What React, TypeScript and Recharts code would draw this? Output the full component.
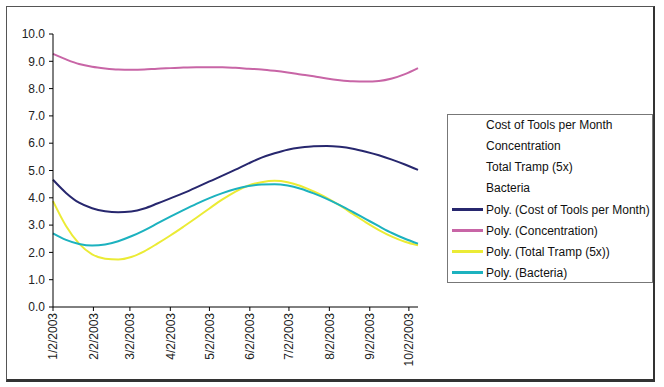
import React from 'react';
import { LineChart, Line, XAxis, YAxis, Legend } from 'recharts';

// x positions: days since 1/2/2003
const days = [0, 10, 20, 30, 40, 50, 60, 70, 80, 90, 100, 110, 120, 130, 140, 150, 160, 170, 180, 190, 200, 210, 220, 230, 240, 250, 260, 270, 280];

const polyCost = [4.66, 4.18, 3.82, 3.62, 3.51, 3.47, 3.5, 3.61, 3.79, 3.98, 4.17, 4.38, 4.6, 4.81, 5.03, 5.26, 5.47, 5.63, 5.76, 5.84, 5.89, 5.9, 5.87, 5.8, 5.69, 5.56, 5.4, 5.22, 5.02];
const polyConcentration = [9.27, 9.07, 8.9, 8.8, 8.74, 8.7, 8.69, 8.7, 8.73, 8.75, 8.77, 8.78, 8.78, 8.78, 8.76, 8.73, 8.7, 8.65, 8.59, 8.52, 8.45, 8.37, 8.31, 8.27, 8.26, 8.28, 8.37, 8.53, 8.75];
const polyTramp = [3.88, 2.97, 2.32, 1.93, 1.77, 1.74, 1.83, 2.04, 2.32, 2.62, 2.94, 3.27, 3.61, 3.94, 4.23, 4.45, 4.57, 4.62, 4.57, 4.43, 4.23, 4.0, 3.72, 3.41, 3.1, 2.82, 2.58, 2.39, 2.26];
const polyBacteria = [2.7, 2.46, 2.31, 2.25, 2.29, 2.41, 2.59, 2.81, 3.06, 3.31, 3.55, 3.78, 3.99, 4.17, 4.32, 4.43, 4.49, 4.5, 4.45, 4.33, 4.16, 3.96, 3.73, 3.48, 3.22, 2.96, 2.71, 2.5, 2.32];

const tickDays = [0, 31, 59, 90, 120, 151, 181, 212, 243, 273];
const tickLabels = ['1/2/2003', '2/2/2003', '3/2/2003', '4/2/2003', '5/2/2003', '6/2/2003', '7/2/2003', '8/2/2003', '9/2/2003', '10/2/2003'];
const yTicks = [0, 1, 2, 3, 4, 5, 6, 7, 8, 9, 10];

const seriesNames = ['Cost of Tools per Month', 'Concentration', 'Total Tramp (5x)', 'Bacteria'];
const trendNames = ['Poly. (Cost of Tools per Month)', 'Poly. (Concentration)', 'Poly. (Total Tramp (5x))', 'Poly. (Bacteria)'];
const trendKeys = ['cost', 'conc', 'tramp', 'bact'];
const colors = ['#27276E', '#C865A6', '#EBEB35', '#1CB2BF'];

const data = days.map((d, i) => ({
  day: d,
  cost: polyCost[i],
  conc: polyConcentration[i],
  tramp: polyTramp[i],
  bact: polyBacteria[i],
}));

const FONT = '"Liberation Sans", Arial, sans-serif';

const XTick = (props: any) => {
  const { x, y, payload } = props;
  const idx = tickDays.indexOf(payload.value);
  return (
    <text
      x={x}
      y={y}
      transform={`rotate(-90 ${x} ${y})`}
      textAnchor="end"
      dy="0.35em"
      fontSize={12}
      fontFamily={FONT}
      fill="#222"
    >
      {idx >= 0 ? tickLabels[idx] : ''}
    </text>
  );
};

const LegendBox = () => (
  <div
    style={{
      width: 206,
      height: 169,
      boxSizing: 'border-box',
      border: '1px solid #777',
      background: '#fff',
      fontFamily: FONT,
      fontSize: 12,
      color: '#111',
      whiteSpace: 'nowrap',
      overflow: 'hidden',
    }}
  >
    {seriesNames.map((n) => (
      <div key={n} style={{ height: 21, lineHeight: '21px', paddingLeft: 38 }}>
        {n}
      </div>
    ))}
    {trendNames.map((n, i) => (
      <div key={n} style={{ height: 21, display: 'flex', alignItems: 'center' }}>
        <span
          style={{
            display: 'inline-block',
            width: 31,
            height: 2.5,
            background: colors[i],
            marginLeft: 4,
            marginRight: 3,
          }}
        />
        {n}
      </div>
    ))}
  </div>
);

export default function App() {
  return (
    <div style={{ position: 'absolute', left: 0, top: 0, width: 664, height: 387, background: '#fff' }}>
      <div
        style={{
          position: 'absolute',
          left: 6,
          top: 6,
          width: 649,
          height: 376,
          boxSizing: 'border-box',
          borderTop: '1px solid #555',
          borderLeft: '1px solid #555',
          borderRight: '2px solid #333',
          borderBottom: '3px solid #333',
        }}
      />
      <div style={{ position: 'absolute', left: 0, top: 0 }}>
        <LineChart
          width={664}
          height={387}
          data={data}
          margin={{ top: 34, right: 246, bottom: 0, left: 0 }}
        >
          <XAxis
            dataKey="day"
            type="number"
            domain={[0, 280]}
            ticks={tickDays}
            interval={0}
            height={80}
            tickSize={4}
            tickMargin={2}
            tick={<XTick />}
            axisLine={{ stroke: '#000' }}
            tickLine={{ stroke: '#000' }}
          />
          <YAxis
            type="number"
            domain={[0, 10]}
            ticks={yTicks}
            interval={0}
            width={53}
            tickSize={4}
            tickMargin={4}
            tickFormatter={(v: number) => v.toFixed(1)}
            tick={{ fontSize: 12, fontFamily: FONT, fill: '#222' }}
            axisLine={{ stroke: '#000' }}
            tickLine={{ stroke: '#000' }}
          />
          <Legend
            layout="vertical"
            align="center"
            verticalAlign="middle"
            content={<LegendBox />}
            wrapperStyle={{ position: 'absolute', left: 447, top: 114, width: 206, height: 169 }}
          />
          {trendKeys.map((k, i) => (
            <Line
              key={k}
              dataKey={k}
              name={trendNames[i]}
              type="monotone"
              stroke={colors[i]}
              strokeWidth={2}
              dot={false}
              activeDot={false}
              isAnimationActive={false}
            />
          ))}
        </LineChart>
      </div>
    </div>
  );
}
